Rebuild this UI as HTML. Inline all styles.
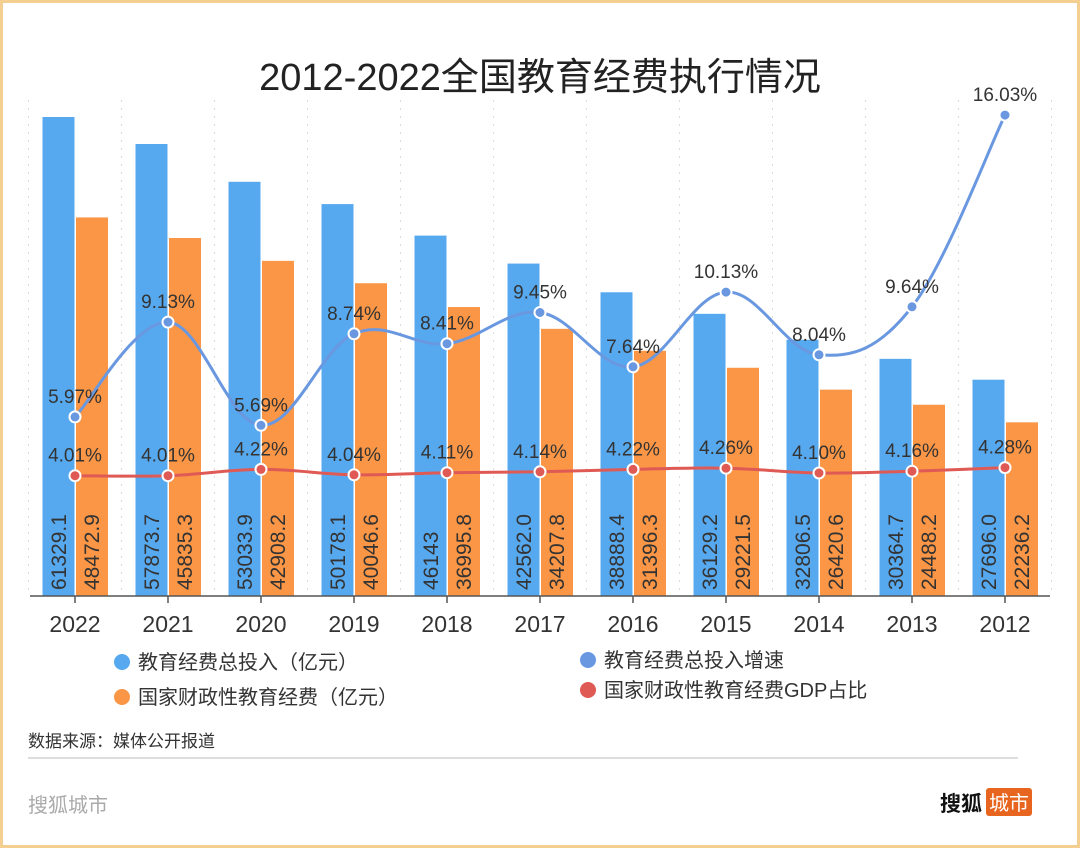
<!DOCTYPE html>
<html><head><meta charset="utf-8"><style>
html,body{margin:0;padding:0;background:#fff;}
body{width:1080px;height:848px;overflow:hidden;font-family:"Liberation Sans","Noto Sans CJK SC",sans-serif;}
#frame{position:absolute;left:0;top:0;width:1074px;height:842px;border:3px solid #f5cf92;}
</style></head><body>
<div id="frame"></div>
<svg id="chart" width="1080" height="848" style="position:absolute;left:0;top:0">
<text x="540" y="90" text-anchor="middle" font-size="38" fill="#222" font-family="Liberation Sans,Noto Sans CJK SC,sans-serif">2012-2022全国教育经费执行情况</text>
</svg>
<script>
const years=["2022","2021","2020","2019","2018","2017","2016","2015","2014","2013","2012"];
const totalInv=[61329.1,57873.7,53033.9,50178.1,46143,42562.0,38888.4,36129.2,32806.5,30364.7,27696.0];
const totalLabels=["61329.1","57873.7","53033.9","50178.1","46143","42562.0","38888.4","36129.2","32806.5","30364.7","27696.0"];
const fiscalInv=[48472.9,45835.3,42908.2,40046.6,36995.8,34207.8,31396.3,29221.5,26420.6,24488.2,22236.2];
const fiscalLabels=["48472.9","45835.3","42908.2","40046.6","36995.8","34207.8","31396.3","29221.5","26420.6","24488.2","22236.2"];
const growth=[5.97,9.13,5.69,8.74,8.41,9.45,7.64,10.13,8.04,9.64,16.03];
const gdpShare=[4.01,4.01,4.22,4.04,4.11,4.14,4.22,4.26,4.10,4.16,4.28];

const svg=document.getElementById('chart');
const NS='http://www.w3.org/2000/svg';
const base=596, left=28.5, step=93;
const yBar=v=>base-v*479/61329.1;
const yPct=v=>base-v*30;
const xC=i=>left+step*i+step/2;
function mk(t,a){const e=document.createElementNS(NS,t);for(const k in a)e.setAttribute(k,a[k]);svg.appendChild(e);return e;}
const FF='Liberation Sans,Noto Sans CJK SC,sans-serif';
// grid
for(let i=0;i<=years.length;i++){
  const g=mk('line',{x1:left+step*i,x2:left+step*i,y1:100,y2:base,stroke:'#ddd','stroke-dasharray':'2,6'});
  
  
}
years.forEach((y,i)=>{
  const c=xC(i);
  const b=mk('rect',{x:c-32.5,y:yBar(totalInv[i]),width:32,height:base-yBar(totalInv[i]),fill:'#57a9ef'});
  
  
  const o=mk('rect',{x:c+1,y:yBar(fiscalInv[i]),width:32,height:base-yBar(fiscalInv[i]),fill:'#fa9645'});
  
  
  const t1=mk('text',{x:0,y:0,transform:`translate(${c-9},590) rotate(-90)`,'font-size':21,fill:'#333','font-family':FF});
  t1.textContent=totalLabels[i];
  
  
  const t2=mk('text',{x:0,y:0,transform:`translate(${c+24},590) rotate(-90)`,'font-size':21,fill:'#333','font-family':FF});
  t2.textContent=fiscalLabels[i];
  
  
  const tk=mk('line',{x1:c,x2:c,y1:base,y2:603,stroke:'#555','stroke-width':1.5});
  
  
  const xl=mk('text',{x:c,y:632,'text-anchor':'middle','font-size':23,fill:'#333','font-family':FF});
  xl.textContent=y;
  
  
});
const ax=mk('line',{x1:30,x2:1050,y1:base,y2:base,stroke:'#555','stroke-width':1.5});


function smooth(pts){
  let d=`M${pts[0][0]},${pts[0][1]}`;
  for(let i=0;i<pts.length-1;i++){
    const p0=pts[i-1]||pts[i],p1=pts[i],p2=pts[i+1],p3=pts[i+2]||p2;
    const t=0.18;
    d+=` C${p1[0]+(p2[0]-p0[0])*t},${p1[1]+(p2[1]-p0[1])*t} ${p2[0]-(p3[0]-p1[0])*t},${p2[1]-(p3[1]-p1[1])*t} ${p2[0]},${p2[1]}`;
  }
  return d;
}
function series(vals,color,name){
  const pts=vals.map((v,i)=>[xC(i),yPct(v)]);
  const p=mk('path',{d:smooth(pts),fill:'none',stroke:color,'stroke-width':3});
  
  
  pts.forEach((q,i)=>{
    const c=mk('circle',{cx:q[0],cy:q[1],r:5.5,fill:color,stroke:'#fff','stroke-width':2});
    
    
    const t=mk('text',{x:q[0],y:q[1]-14,'text-anchor':'middle','font-size':19,fill:'#333','font-family':FF});
    t.textContent=vals[i].toFixed(2)+'%';
    
    
  });
}
series(growth,'#6a98e0','growth');
series(gdpShare,'#e05a55','gdp-share');
// legend
const leg=[[122,662,'#57a9ef','教育经费总投入（亿元）'],[588,660,'#6a98e0','教育经费总投入增速'],[122,697,'#fa9645','国家财政性教育经费（亿元）'],[588,690,'#e05a55','国家财政性教育经费GDP占比']];
leg.forEach(l=>{
  const c=mk('circle',{cx:l[0],cy:l[1],r:8,fill:l[2]});
  
  
  const t=mk('text',{x:l[0]+16,y:l[1]+7,'font-size':20,fill:'#333','font-family':FF});
  t.textContent=l[3];
  
  
});
const src=mk('text',{x:28,y:747,'font-size':17,fill:'#333','font-family':FF});
src.textContent='数据来源：媒体公开报道';


const sep=mk('line',{x1:28,x2:1018,y1:758,y2:758,stroke:'#ddd','stroke-width':2});


const ft=mk('text',{x:28,y:812,'font-size':20,fill:'#aaa','font-family':FF});
ft.textContent='搜狐城市';


const lg=mk('text',{x:940,y:811,'font-size':21,'font-weight':'bold',fill:'#111','font-family':FF});
lg.textContent='搜狐';


const lb=mk('rect',{x:986,y:788,width:46,height:28,rx:3,fill:'#e8651f'});


const lt=mk('text',{x:1009,y:810,'text-anchor':'middle','font-size':20,fill:'#fff','font-family':FF});
lt.textContent='城市';


</script>
</body></html>
